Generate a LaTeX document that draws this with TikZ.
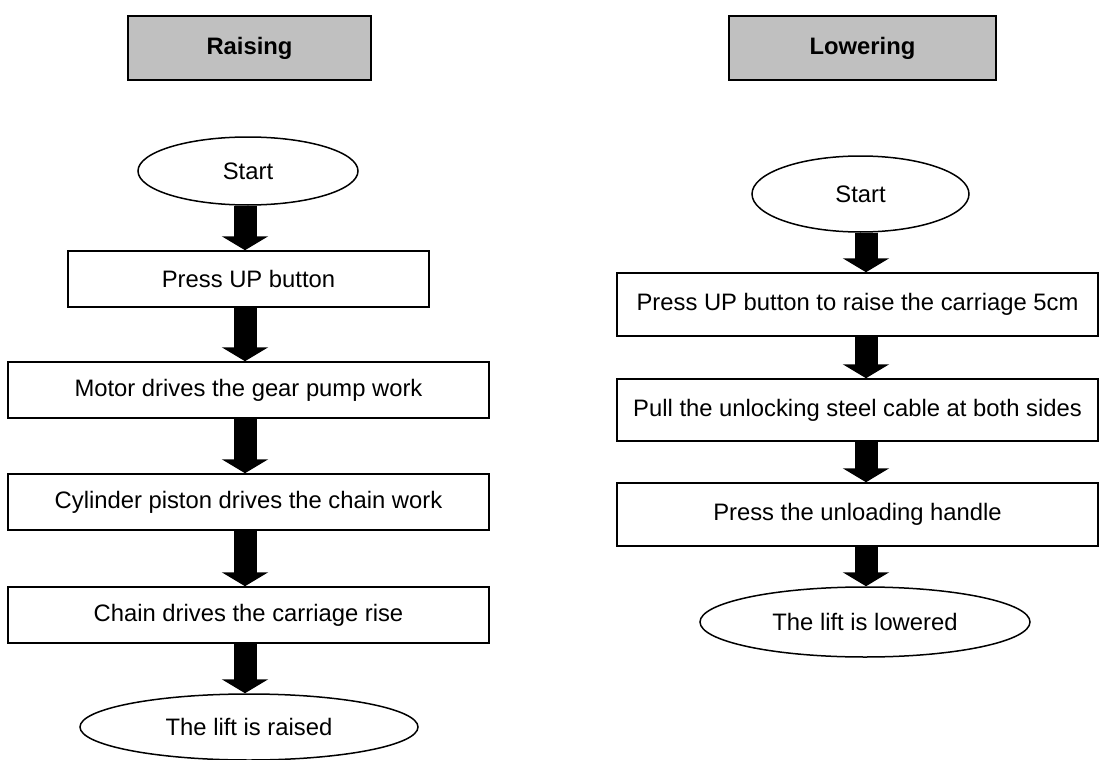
\documentclass[tikz,border=0pt]{standalone}
\usepackage{fontspec}
\setmainfont{Liberation Sans}
\usetikzlibrary{shapes.geometric,arrows.meta}
\definecolor{hdrgray}{HTML}{C0C0C0}
\tikzset{
  txt/.style={font=\fontsize{23.8pt}{28pt}\selectfont, inner sep=0pt, align=center},
  header/.style={txt, font=\fontsize{23.8pt}{28pt}\selectfont\bfseries, draw, line width=2.2pt, fill=hdrgray, minimum height=64pt},
  stepbox/.style={txt, draw, line width=1.5pt, minimum width=481pt},
  term/.style={txt, draw, ellipse, line width=1.5pt},
  blk/.style={line width=23pt, -{Triangle[width=46pt,length=14pt]}}
}
\begin{document}
\begin{tikzpicture}[x=1pt,y=-1pt]
\useasboundingbox (0,0) rectangle (1109,760);
\coordinate (axL) at (245,0);
\coordinate (axR) at (866,0);
% Raising column
\node[header, minimum width=243pt] (hR) at (249.5,48) {Raising};
\node[term, minimum width=220pt, minimum height=68pt] (s1) at (248,171) {Start};
\node[txt, draw, line width=1.5pt, minimum width=361pt, minimum height=56pt] (b1) at (248.5,279) {Press UP button};
\node[stepbox, minimum height=56pt] (b2) at (248.5,390) {Motor drives the gear pump work};
\node[stepbox, minimum height=56pt] (b3) at (248.5,502) {Cylinder piston drives the chain work};
\node[stepbox, minimum height=56pt] (b4) at (248.5,615) {Chain drives the carriage rise};
\node[term, minimum width=338pt, minimum height=66pt] (e1) at (249,727) {The lift is raised};
\draw[blk] (s1.south -| axL) -- (b1.north -| axL);
\draw[blk] (b1.south -| axL) -- (b2.north -| axL);
\draw[blk] (b2.south -| axL) -- (b3.north -| axL);
\draw[blk] (b3.south -| axL) -- (b4.north -| axL);
\draw[blk] (b4.south -| axL) -- (e1.north -| axL);
% Lowering column
\node[header, minimum width=267pt] (hL) at (862.5,48) {Lowering};
\node[term, minimum width=217pt, minimum height=76pt] (s2) at (860.5,194) {Start};
\node[stepbox, minimum height=63pt] (r1) at (857.5,304.5) {Press UP button to raise the carriage 5cm};
\node[stepbox, minimum height=62pt] (r2) at (857.5,410) {Pull the unlocking steel cable at both sides};
\node[stepbox, minimum height=63pt] (r3) at (857.5,514.5) {Press the unloading handle};
\node[term, minimum width=330pt, minimum height=70pt] (e2) at (865,622) {The lift is lowered};
\draw[blk] (s2.south -| axR) -- (r1.north -| axR);
\draw[blk] (r1.south -| axR) -- (r2.north -| axR);
\draw[blk] (r2.south -| axR) -- (r3.north -| axR);
\draw[blk] (r3.south -| axR) -- (e2.north -| axR);
\end{tikzpicture}
\end{document}
